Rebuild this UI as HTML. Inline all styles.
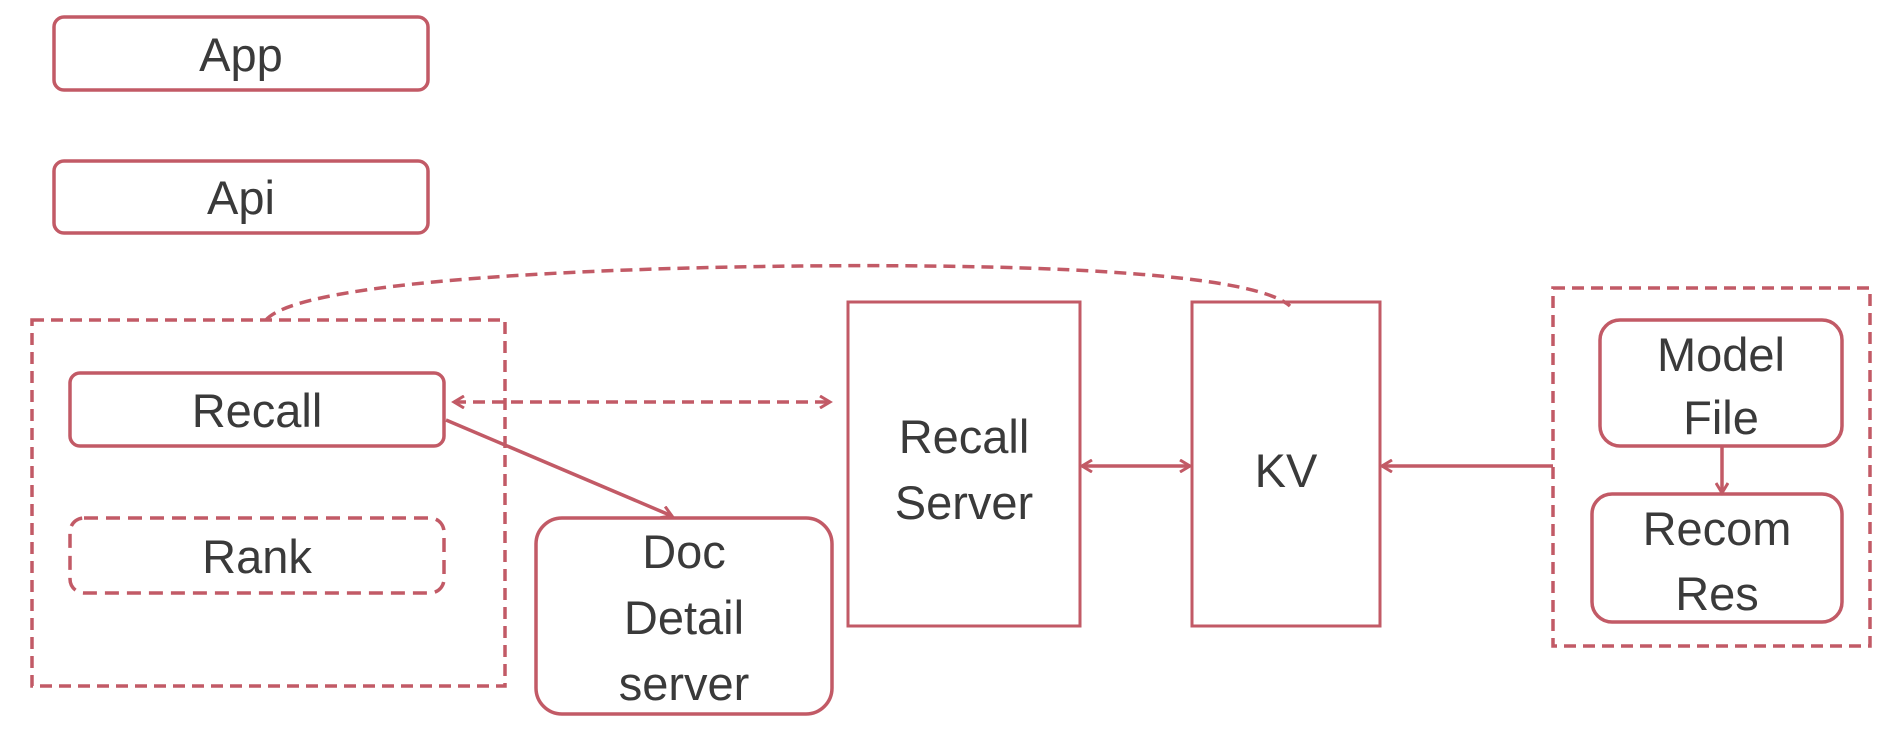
<!DOCTYPE html>
<html><head><meta charset="utf-8"><style>
body{margin:0;background:#fff;}
svg{display:block}
text{font-family:"Liberation Sans",sans-serif;font-size:47px;fill:#3a3a3a;text-anchor:middle}
</style></head><body>
<svg width="1882" height="730" viewBox="0 0 1882 730">
<defs>
<marker id="a" markerWidth="14" markerHeight="14" refX="11" refY="7" orient="auto-start-reverse" markerUnits="userSpaceOnUse"><path d="M1,1 L11,7 L1,13" fill="none" stroke="#c25a66" stroke-width="3"/></marker>
</defs>
<g fill="none" stroke="#c25a66" stroke-width="3.5">
<rect x="54" y="17" width="374" height="73" rx="10"/>
<rect x="54" y="161" width="374" height="72" rx="10"/>
<rect x="32" y="320" width="473" height="366" stroke-dasharray="12,7"/>
<rect x="70" y="373" width="374" height="73" rx="10"/>
<rect x="70" y="518" width="374" height="75" rx="14" stroke-dasharray="14,8"/>
<rect x="536" y="518" width="296" height="196" rx="26"/>
<rect x="848" y="302" width="232" height="324" stroke-width="3"/>
<rect x="1192" y="302" width="188" height="324" stroke-width="3"/>
<rect x="1553" y="288" width="317" height="358" stroke-dasharray="12,7"/>
<rect x="1600" y="320" width="242" height="126" rx="20"/>
<rect x="1592" y="494" width="250" height="128" rx="20"/>
<path d="M266,320 C300,280 600,268 800,266 C1000,264 1250,270 1290,306" stroke-dasharray="12,7"/>
<line x1="454" y1="402" x2="830" y2="402" stroke-dasharray="12,7" marker-start="url(#a)" marker-end="url(#a)"/>
<line x1="446" y1="420" x2="672" y2="516" marker-end="url(#a)"/>
<line x1="1082" y1="466" x2="1190" y2="466" marker-start="url(#a)" marker-end="url(#a)"/>
<line x1="1553" y1="466" x2="1382" y2="466" marker-end="url(#a)"/>
<line x1="1722" y1="446" x2="1722" y2="493" marker-end="url(#a)"/>
</g>
<text x="241" y="71">App</text>
<text x="241" y="214">Api</text>
<text x="257" y="427">Recall</text>
<text x="257" y="573">Rank</text>
<text x="684" y="568">Doc</text>
<text x="684" y="634">Detail</text>
<text x="684" y="700">server</text>
<text x="964" y="453" fill="#222">Recall</text>
<text x="964" y="519" fill="#222">Server</text>
<text x="1286" y="487" fill="#222">KV</text>
<text x="1721" y="371">Model</text>
<text x="1721" y="434">File</text>
<text x="1717" y="545">Recom</text>
<text x="1717" y="610">Res</text>
</g>
</svg>
</body></html>
